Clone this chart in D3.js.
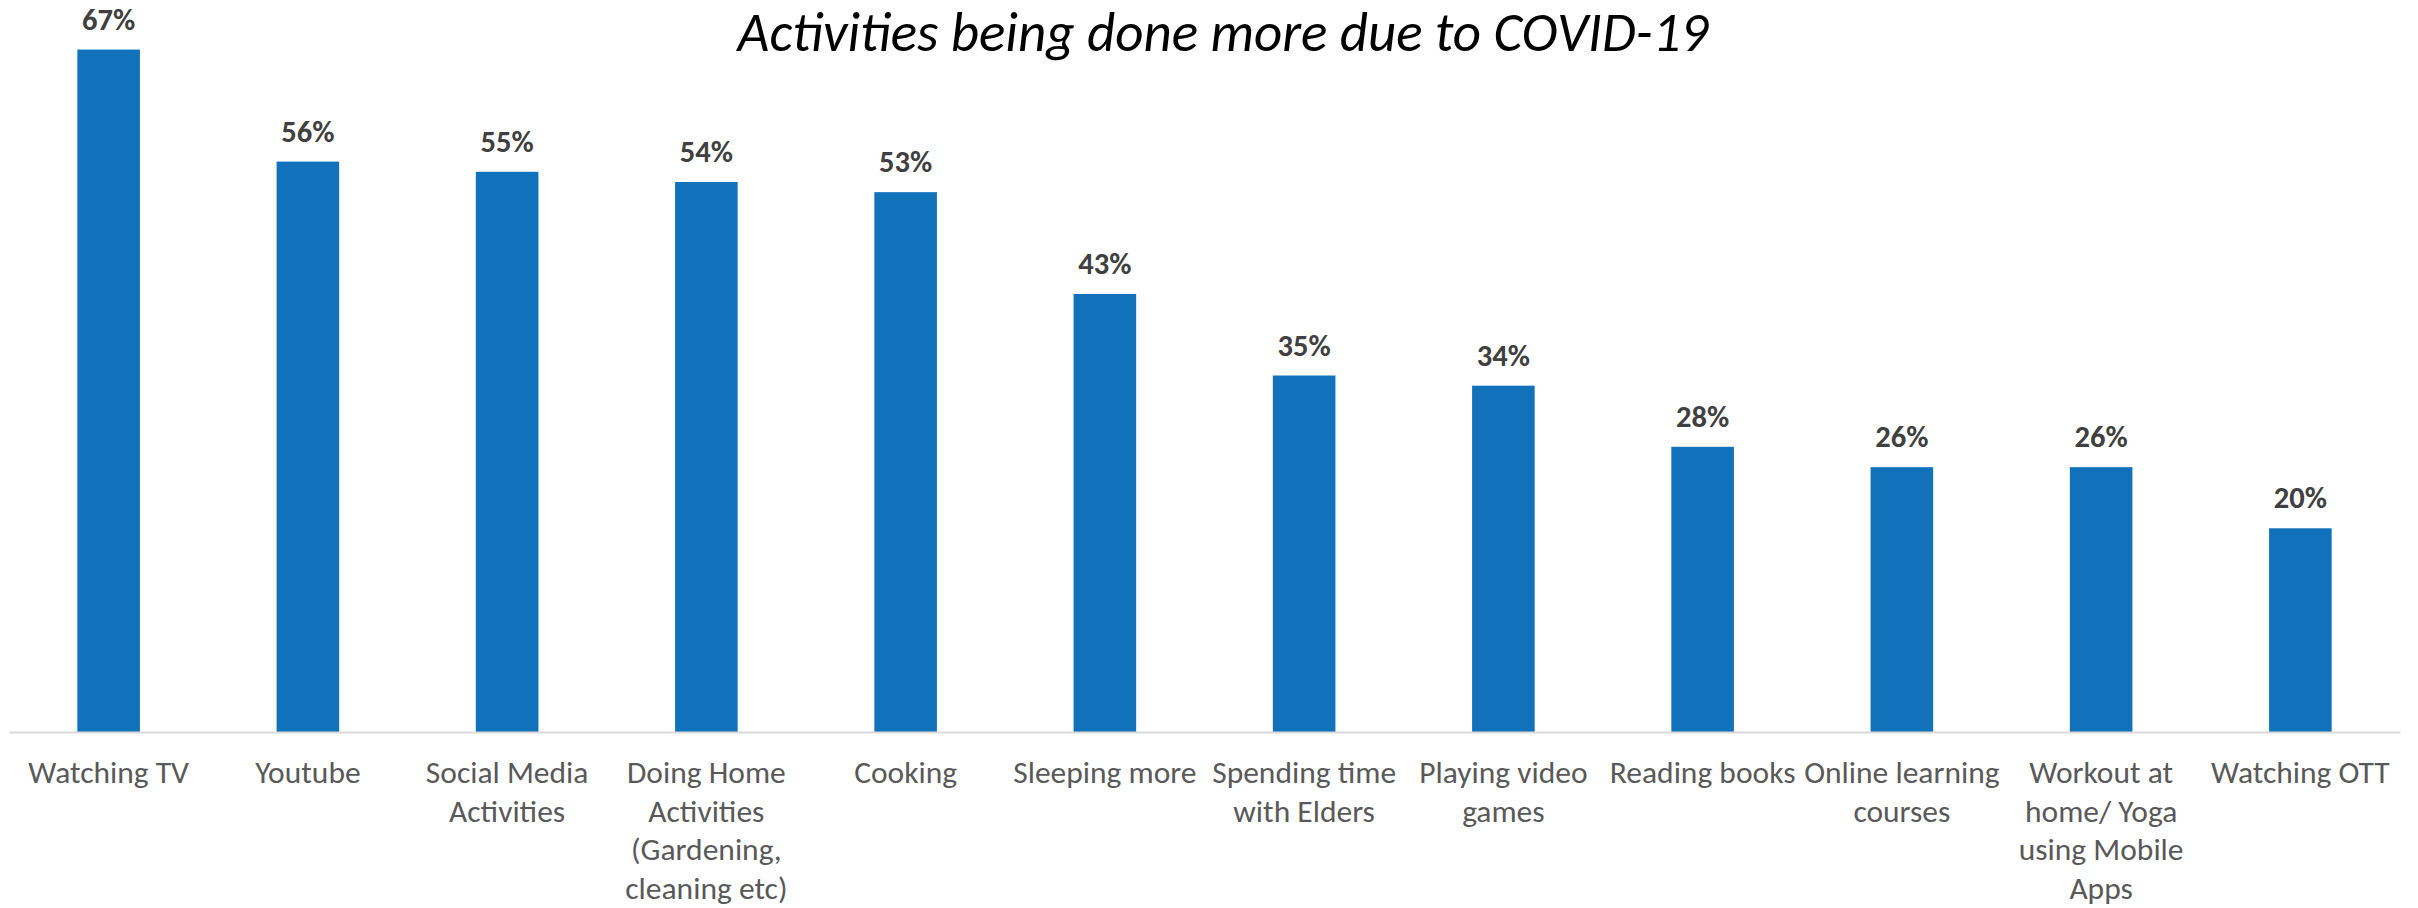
<!DOCTYPE html>
<html>
<head>
<meta charset="utf-8">
<script src="https://cdn.jsdelivr.net/npm/d3@7"></script>
<style>
  html, body { margin: 0; padding: 0; background: #ffffff; }
  svg { display: block; }
</style>
</head>
<body>
<svg id="chart" width="2418" height="908"></svg>
<script>
// Survey: share of respondents doing each activity more during lockdown
const categories = [
  "Watching TV",
  "Youtube",
  "Social Media\nActivities",
  "Doing Home\nActivities\n(Gardening,\ncleaning etc)",
  "Cooking",
  "Sleeping more",
  "Spending time\nwith Elders",
  "Playing video\ngames",
  "Reading books",
  "Online learning\ncourses",
  "Workout at\nhome/ Yoga\nusing Mobile\nApps",
  "Watching OTT"
];
const values = [67, 56, 55, 54, 53, 43, 35, 34, 28, 26, 26, 20];
const title = "Activities being done more due to COVID-19";

const W = 2418, H = 908;
const FONT = "Calibri, Carlito, Lato, 'Open Sans', sans-serif";

const svg = d3.select("#chart");

const x = d3.scaleBand()
  .domain(categories)
  .range([9, 2400])
  .paddingInner(0.686)
  .paddingOuter(0.343);

const y = d3.scaleLinear()
  .domain([0, 70])
  .range([732, 19]);

// Title
svg.append("text")
  .attr("x", 1223)
  .attr("y", 51)
  .attr("text-anchor", "middle")
  .attr("font-family", FONT)
  .attr("font-style", "italic")
  .attr("font-size", 55)
  .attr("fill", "#000000")
  .text(title);

// Bars
svg.append("g")
  .selectAll("rect")
  .data(values)
  .join("rect")
  .attr("x", (d, i) => x(categories[i]))
  .attr("y", d => y(d))
  .attr("width", x.bandwidth())
  .attr("height", d => y(0) - y(d))
  .attr("fill", "#1172bb");

// Value labels
svg.append("g")
  .selectAll("text")
  .data(values)
  .join("text")
  .attr("x", (d, i) => x(categories[i]) + x.bandwidth() / 2)
  .attr("y", d => y(d) - 20)
  .attr("text-anchor", "middle")
  .attr("font-family", FONT)
  .attr("font-weight", "bold")
  .attr("font-size", 30.5)
  .attr("fill", "#404040")
  .text(d => d + "%");

// Category axis
const axis = d3.axisBottom(x).tickSize(0).tickPadding(0).tickFormat("");
const gx = svg.append("g")
  .attr("transform", `translate(0,${y(0)})`)
  .call(axis);
gx.select(".domain").attr("stroke", "#d9d9d9").attr("stroke-width", 2);

const labels = svg.append("g")
  .attr("font-family", FONT)
  .attr("font-size", 31.5)
  .attr("fill", "#595959")
  .attr("text-anchor", "middle");

categories.forEach(c => {
  const t = labels.append("text")
    .attr("x", x(c) + x.bandwidth() / 2)
    .attr("y", 783);
  c.split("\n").forEach((line, j) => {
    t.append("tspan")
      .attr("x", x(c) + x.bandwidth() / 2)
      .attr("dy", j === 0 ? 0 : 38.5)
      .text(line);
  });
});
</script>
</body>
</html>
